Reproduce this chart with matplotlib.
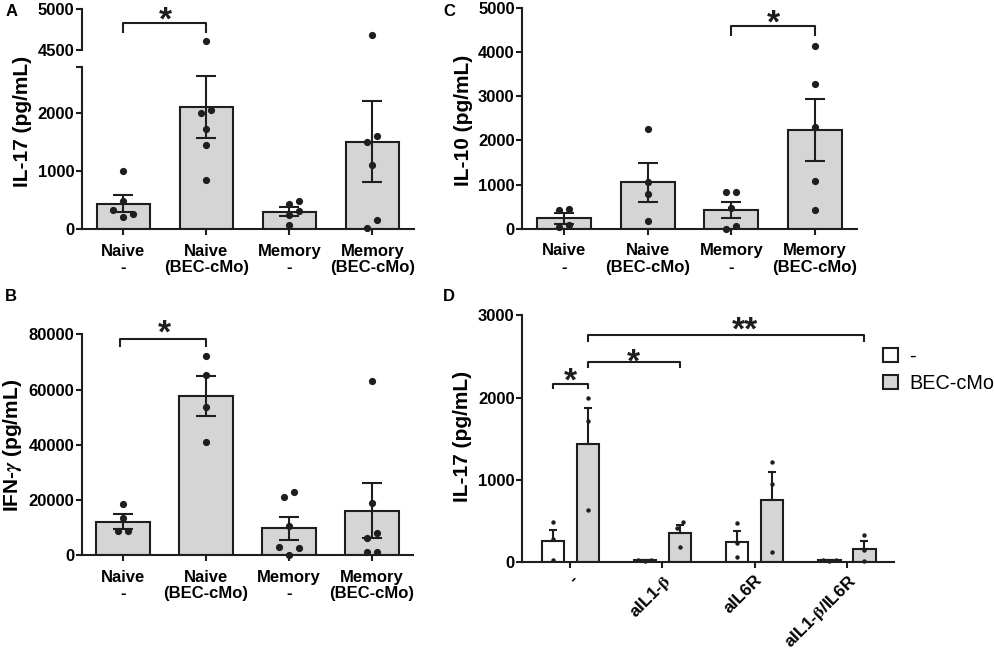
import numpy as np
import matplotlib
matplotlib.use('Agg')
import matplotlib.pyplot as plt
from matplotlib.patches import Patch

plt.rcParams['font.family'] = ['Liberation Sans', 'DejaVu Sans']
plt.rcParams['font.weight'] = 'bold'
plt.rcParams['mathtext.fontset'] = 'stix'

# ---------------- data ----------------
abc_categories = ['Naive\n-', 'Naive\n(BEC-cMo)', 'Memory\n-', 'Memory\n(BEC-cMo)']

il17_means = [439, 2110, 300, 1509]
il17_sem = [145, 535, 75, 700]
il17_points = [[1000, 480, 324, 208, 260],
               [4607, 2052, 2006, 1723, 1445, 850],
               [428, 491, 312, 248, 64],
               [4689, 1607, 1503, 1098, 162, 23]]

ifng_means = [12187, 57677, 9774, 16169]
ifng_sem = [2600, 7100, 4100, 10000]
ifng_points = [[18703, 13635, 8808, 8808],
               [72036, 65400, 53575, 41026],
               [21116, 22805, 10498, 2896, 2775, 0],
               [62986, 18823, 7964, 6154, 1327, 1327]]

il10_means = [234, 1050, 423, 2228]
il10_sem = [130, 445, 185, 700]
il10_points = [[446, 430, 45, 91],
               [2258, 1065, 778, 181],
               [823, 823, 476, 0, 60],
               [4131, 3285, 2311, 1080, 415]]

d_groups = ['-', r'aIL1-$\mathrm{\beta}$', 'aIL6R', r'aIL1-$\mathrm{\beta}$/IL6R']
d_series = ['-', 'BEC-cMo']
d_means_ctrl = [251, 20, 247, 22]
d_sem_ctrl = [140, 4, 130, 5]
d_means_bec = [1439, 349, 754, 158]
d_sem_bec = [430, 97, 336, 101]
d_points_ctrl = [[482, 276, 24], [20, 25, 15], [470, 227, 61], [30, 18, 28]]
d_points_bec = [[1998, 1715, 632], [482, 409, 186], [1212, 953, 118], [324, 150, 16]]

# ---------------- style ----------------
W, H = 995, 652
BAR = '#d5d5d5'
EDGE = '#1e1e1e'
LW = 1.5
TICK_FS = 12
LABEL_FS = 15

fig = plt.figure(figsize=(W / 100, H / 100), dpi=100)


def px_axes(l, t, r, b):
    return fig.add_axes([l / W, 1 - b / H, (r - l) / W, (b - t) / H])


def style_axes(ax, xpad=2):
    for s in ['top', 'right']:
        ax.spines[s].set_visible(False)
    for s in ['left', 'bottom']:
        ax.spines[s].set_linewidth(LW)
        ax.spines[s].set_color(EDGE)
    ax.tick_params(direction='out', length=4, width=LW, color=EDGE,
                   labelsize=TICK_FS, pad=1.5)
    ax.tick_params(axis='x', pad=xpad)
    for lab in ax.get_yticklabels() + ax.get_xticklabels():
        lab.set_fontweight('bold')


def swarm(ax, xc, vals, d_px):
    vals = np.asarray(vals, float)
    if len(vals) == 0:
        return np.array([])
    tr = ax.transData
    pts = tr.transform(np.column_stack([np.full(len(vals), xc), vals]))
    ys = pts[:, 1]
    x0 = pts[0, 0]
    order = np.argsort(ys, kind='stable')
    offs = np.zeros(len(vals))
    placed = []
    cands = [0]
    for m in range(1, 10):
        cands += [m, -m]
    for i in order:
        for c in cands:
            ok = all(np.hypot((c - offs[j]) * d_px, ys[i] - ys[j]) >= d_px * 0.999
                     for j in placed)
            if ok:
                offs[i] = c
                break
        placed.append(i)
    # centre clusters that form a single row
    clusters = []
    cur = [order[0]]
    for a, b in zip(order[:-1], order[1:]):
        if ys[b] - ys[a] < d_px:
            cur.append(b)
        else:
            clusters.append(cur)
            cur = [b]
    clusters.append(cur)
    for cl in clusters:
        if len(cl) > 1 and ys[cl].max() - ys[cl].min() < d_px:
            o = offs[cl]
            offs[cl] = o - (o.max() + o.min()) / 2
    xs = tr.inverted().transform(np.column_stack([x0 + offs * d_px, ys]))[:, 0]
    return xs


def star(ax, x, y, s, size, center_px):
    off_pt = (center_px - 0.575 * size * 100 / 72) * 0.72
    ax.annotate(s, xy=(x, y), xytext=(0, off_pt), textcoords='offset points',
                ha='center', va='baseline', fontsize=size, fontweight='bold',
                color=EDGE, annotation_clip=False)


def bracket(ax, x1, x2, y, yend, yend2=None):
    if yend2 is None:
        yend2 = yend
    ax.plot([x1, x1, x2, x2], [yend, y, y, yend2], color=EDGE, lw=LW,
            clip_on=False, solid_capstyle='butt', zorder=5)


def bar_panel(ax, means, sem, points, ylim, yticks, dot_axes=None):
    x = np.arange(len(means))
    ax.set_xlim(-0.5, 3.5)
    ax.set_ylim(*ylim)
    ax.bar(x, means, width=0.65, color=BAR, edgecolor=EDGE, linewidth=LW, zorder=2)
    ax.errorbar(x, means, yerr=sem, fmt='none', ecolor=EDGE, elinewidth=LW,
                capsize=7, capthick=LW, zorder=4)
    for i, pts in enumerate(points):
        pts = np.asarray(pts, float)
        low = pts[pts <= ylim[1]]
        xs = swarm(ax, i, low, 10)
        ax.plot(xs, low, 'o', color=EDGE, ms=5.2, mew=0, zorder=3, clip_on=False)
        if dot_axes is not None:
            high = pts[pts > ylim[1]]
            if len(high):
                xs = swarm(dot_axes, i, high, 10)
                dot_axes.plot(xs, high, 'o', color=EDGE, ms=5.2, mew=0, zorder=3)
    ax.set_xticks(x)
    ax.set_xticklabels(abc_categories, linespacing=1.12)
    ax.set_yticks(yticks)
    style_axes(ax, xpad=6.5)


# ---------------- Panel A (broken axis) ----------------
axA_top = px_axes(82, 9.3, 414, 50)
axA = px_axes(82, 66.7, 414, 229)
axA_top.set_xlim(-0.5, 3.5)
axA_top.set_ylim(4500, 5000)
bar_panel(axA, il17_means, il17_sem, il17_points, (0, 2800), [0, 1000, 2000, 2800],
          dot_axes=axA_top)
axA.set_yticklabels(['0', '1000', '2000', ''])
style_axes(axA_top)
axA_top.spines['bottom'].set_visible(False)
axA_top.set_xticks([])
axA_top.set_yticks([4500, 5000])
for lab in axA_top.get_yticklabels():
    lab.set_fontweight('bold')
bracket(axA_top, 0, 1, 4836, 4705)
star(axA_top, 0.5, 4836, '*', 24, 12.7)
fig.text(22.5 / W, 1 - 121 / H, 'IL-17 (pg/mL)', rotation=90, ha='center', va='center',
         fontsize=LABEL_FS, fontweight='bold')
fig.text(12 / W, 1 - 12 / H, 'A', ha='center', va='center', fontsize=12, fontweight='bold')

# ---------------- Panel B ----------------
axB = px_axes(82, 334.3, 413, 555.3)
bar_panel(axB, ifng_means, ifng_sem, ifng_points, (0, 80000),
          [0, 20000, 40000, 60000, 80000])
bracket(axB, -0.04, 1, 78431, 75294)
star(axB, 0.5, 78431, '*', 24, 15)
fig.text(12.5 / W, 1 - 445.8 / H, r'IFN-$\gamma$ (pg/mL)', rotation=90, ha='center',
         va='center', fontsize=LABEL_FS, fontweight='bold')
fig.text(11 / W, 1 - 297 / H, 'B', ha='center', va='center', fontsize=12, fontweight='bold')

# ---------------- Panel C ----------------
axC = px_axes(522.3, 8, 856.7, 228.7)
bar_panel(axC, il10_means, il10_sem, il10_points, (0, 5000),
          [0, 1000, 2000, 3000, 4000, 5000])
bracket(axC, 2, 3, 4592, 4366)
star(axC, 2.5, 4592, '*', 24, 13)
fig.text(464 / W, 1 - 120 / H, 'IL-10 (pg/mL)', rotation=90, ha='center', va='center',
         fontsize=LABEL_FS, fontweight='bold')
fig.text(449 / W, 1 - 12 / H, 'C', ha='center', va='center', fontsize=12, fontweight='bold')

# ---------------- Panel D ----------------
axD = px_axes(522.3, 315.3, 894, 562)
xg = np.arange(len(d_groups))
off = 0.19
bw = 0.24
axD.set_xlim(-0.52, 3.51)
axD.set_ylim(0, 3000)
axD.bar(xg - off, d_means_ctrl, width=bw, color='white', edgecolor=EDGE, linewidth=LW, zorder=2)
axD.bar(xg + off, d_means_bec, width=bw, color=BAR, edgecolor=EDGE, linewidth=LW, zorder=2)
axD.errorbar(xg - off, d_means_ctrl, yerr=[np.zeros(4), d_sem_ctrl], fmt='none', ecolor=EDGE,
             elinewidth=LW, capsize=3, capthick=LW, zorder=4)
axD.errorbar(xg + off, d_means_bec, yerr=[np.zeros(4), d_sem_bec], fmt='none', ecolor=EDGE,
             elinewidth=LW, capsize=3, capthick=LW, zorder=4)
for i in range(len(d_groups)):
    for pts, sgn in ((d_points_ctrl[i], -1), (d_points_bec[i], 1)):
        xs = swarm(axD, i + sgn * off, pts, 6.5)
        axD.plot(xs, pts, 'o', color=EDGE, ms=3.2, mew=0, zorder=5, clip_on=False)
axD.set_xticks(xg)
axD.set_xticklabels(d_groups, rotation=45, ha='right', va='top', rotation_mode='anchor')
axD.set_yticks([0, 1000, 2000, 3000])
style_axes(axD, xpad=3)
for lab in axD.get_xticklabels():
    lab.set_fontsize(12.5)
bracket(axD, -off, off, 2169, 2100)
star(axD, 0, 2169, '*', 24, 12)
bracket(axD, off, 1 + off, 2436, 2355)
star(axD, 0.5 + off, 2436, '*', 24, 9)
bracket(axD, off, 3 + off, 2760, 2679)
star(axD, 1.7 + off, 2760, '**', 24, 15)
fig.text(463 / W, 1 - 436 / H, 'IL-17 (pg/mL)', rotation=90, ha='center', va='center',
         fontsize=LABEL_FS, fontweight='bold')
fig.text(449 / W, 1 - 297 / H, 'D', ha='center', va='center', fontsize=12, fontweight='bold')

handles = [Patch(facecolor='white', edgecolor=EDGE, linewidth=LW),
           Patch(facecolor=BAR, edgecolor=EDGE, linewidth=LW)]
axD.legend(handles, d_series, loc='upper left', bbox_to_anchor=(883 / W, 1 - 347 / H),
           bbox_transform=fig.transFigure, frameon=False,
           prop={'weight': 'normal', 'size': 14.3}, handlelength=0.76, handleheight=0.76,
           borderaxespad=0, borderpad=0, handletextpad=0.55, labelspacing=0.4)

fig.savefig('out.png', dpi=100)
